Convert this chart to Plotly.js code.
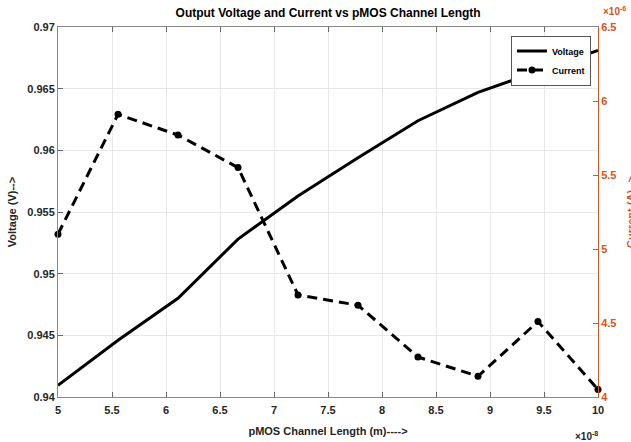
<!DOCTYPE html>
<html>
<head>
<meta charset="utf-8">
<script src="https://cdn.plot.ly/plotly-3.0.1.min.js"></script>
<style>html,body{margin:0;padding:0;background:#fff;}#chart{width:631px;height:442px;}</style>
</head>
<body>
<div id="chart"></div>
<script>
// Channel length in units of 1e-8 m
const channelLength = [5, 5.556, 6.111, 6.667, 7.222, 7.778, 8.333, 8.889, 9.444, 10];
// Output voltage (V)
const voltage = [0.94095, 0.9446, 0.9480, 0.9528, 0.9563, 0.9594, 0.9624, 0.9647, 0.9664, 0.9681];
// Current in units of 1e-6 A
const current = [5.10, 5.91, 5.77, 5.55, 4.69, 4.62, 4.27, 4.14, 4.51, 4.05];

const xTickVals = [5, 5.5, 6, 6.5, 7, 7.5, 8, 8.5, 9, 9.5, 10];
const xTickText = ['5', '5.5', '6', '6.5', '7', '7.5', '8', '8.5', '9', '9.5', '10'];
const yTickVals = [0.94, 0.945, 0.95, 0.955, 0.96, 0.965, 0.97];
const yTickText = ['0.94', '0.945', '0.95', '0.955', '0.96', '0.965', '0.97'];
const y2TickVals = [4, 4.5, 5, 5.5, 6, 6.5];
const y2TickText = ['4', '4.5', '5', '5.5', '6', '6.5'];

const orange = '#D95319';
const dark = '#262626';
const fontFam = '"Liberation Sans", Arial, sans-serif';

const traces = [
  {
    x: channelLength, y: voltage, name: 'Voltage', type: 'scatter', mode: 'lines',
    line: {color: '#000', width: 3}, yaxis: 'y'
  },
  {
    x: channelLength, y: current, name: 'Current', type: 'scatter', mode: 'lines+markers',
    line: {color: '#000', width: 3, dash: '10px,6px'},
    marker: {color: '#000', size: 7, symbol: 'circle'},
    yaxis: 'y2', cliponaxis: false
  }
];

const layout = {
  width: 631, height: 442,
  margin: {l: 58, r: 33, t: 27, b: 45, pad: 0},
  paper_bgcolor: '#fff', plot_bgcolor: '#fff',
  font: {family: fontFam, color: dark, size: 11, weight: 'bold'},
  title: {
    text: 'Output Voltage and Current vs pMOS Channel Length',
    font: {family: fontFam, size: 12, color: '#000', weight: 'bold'},
    x: 0.52, xanchor: 'center', y: 0.97, yanchor: 'middle'
  },
  showlegend: true,
  legend: {
    x: 0.987, xanchor: 'right', y: 0.977, yanchor: 'top',
    bgcolor: '#fff', bordercolor: '#555', borderwidth: 1,
    font: {family: fontFam, size: 9, color: '#000', weight: 'bold'},
    itemwidth: 30, tracegroupgap: 0
  },
  xaxis: {
    range: [5, 10], tickvals: xTickVals, ticktext: xTickText,
    ticks: 'inside', ticklen: 5, tickcolor: '#666', tickwidth: 1,
    showline: true, linecolor: '#888', linewidth: 1, mirror: 'ticks',
    showgrid: true, gridcolor: '#e8e8e8', gridwidth: 1, zeroline: false,
    ticklabelstandoff: 3,
    tickfont: {family: fontFam, size: 11, color: dark, weight: 'bold'},
    title: {text: 'pMOS Channel Length (m)---->', standoff: 12,
            font: {family: fontFam, size: 11, color: dark, weight: 'bold'}}
  },
  yaxis: {
    range: [0.94, 0.97], tickvals: yTickVals, ticktext: yTickText,
    ticks: 'inside', ticklen: 5, tickcolor: '#666', tickwidth: 1,
    showline: true, linecolor: '#888', linewidth: 1,
    showgrid: true, gridcolor: '#e8e8e8', gridwidth: 1, zeroline: false,
    tickfont: {family: fontFam, size: 11, color: dark, weight: 'bold'},
    title: {text: 'Voltage (V)-->', standoff: 8,
            font: {family: fontFam, size: 11, color: dark, weight: 'bold'}}
  },
  yaxis2: {
    overlaying: 'y', side: 'right', anchor: 'x',
    range: [4, 6.5], tickvals: y2TickVals, ticktext: y2TickText,
    ticks: 'inside', ticklen: 5, tickcolor: orange, tickwidth: 1,
    showline: true, linecolor: orange, linewidth: 1,
    showgrid: false, zeroline: false,
    tickfont: {family: fontFam, size: 11, color: orange, weight: 'bold'}
  },
  annotations: [
    {text: '×10<sup>-6</sup>', xref: 'paper', yref: 'paper', x: 1, y: 1,
     xanchor: 'left', yanchor: 'bottom', xshift: 3, yshift: 8, showarrow: false,
     font: {family: fontFam, size: 10, color: orange}},
    {text: '×10<sup>-8</sup>', xref: 'paper', yref: 'paper', x: 1, y: 0,
     xanchor: 'right', yanchor: 'top', xshift: 2, yshift: -31, showarrow: false,
     font: {family: fontFam, size: 10, color: dark}},
    {text: 'Current (A)-->', xref: 'paper', yref: 'paper', x: 1, y: 0.5,
     xanchor: 'left', yanchor: 'middle', xshift: 25, textangle: -90, showarrow: false,
     font: {family: fontFam, size: 11, color: orange, weight: 'bold'}}
  ]
};

Plotly.newPlot('chart', traces, layout, {displayModeBar: false, staticPlot: true});
</script>
</body>
</html>
